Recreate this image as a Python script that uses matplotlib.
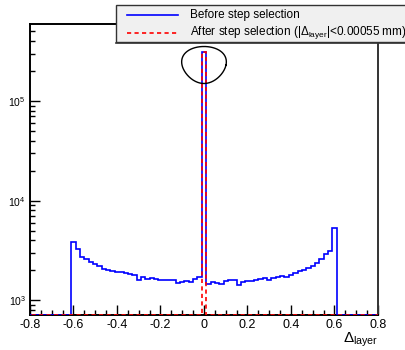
import numpy as np
import matplotlib
matplotlib.use("Agg")
import matplotlib.pyplot as plt
from matplotlib.lines import Line2D
from matplotlib.patches import Rectangle

plt.rcParams['font.family'] = ['Liberation Sans', 'DejaVu Sans']
plt.rcParams['mathtext.fontset'] = 'custom'
plt.rcParams['mathtext.rm'] = 'Liberation Sans'
plt.rcParams['mathtext.it'] = 'Liberation Sans:italic'

# ---- data ----
bin_width = 0.02
bin_centers = np.round(np.arange(-0.60, 0.6001, 0.02), 2)   # 61 bins
before_left = [3860, 3280, 2720, 2590, 2420, 2320, 2210, 2040, 1990, 1960,
               1900, 1910, 1880, 1830, 1780, 1610, 1720, 1630, 1680, 1620,
               1610, 1590, 1590, 1580, 1500, 1530, 1570, 1530, 1620, 1720]
peak_value = 313000
before_right = [1470, 1520, 1490, 1470, 1560, 1590, 1610, 1420, 1530, 1570,
                1560, 1590, 1640, 1670, 1600, 1680, 1710, 1750, 1710, 1800,
                1860, 1950, 2030, 2130, 2220, 2350, 2600, 2900, 3150, 5300]
before = np.array(before_left + [peak_value] + before_right, dtype=float)
after = np.zeros_like(before)
after[len(before_left)] = peak_value

x_range = (-0.8, 0.8)
y_range = (711, 5.94e5)
x_major = [-0.8, -0.6, -0.4, -0.2, 0.0, 0.2, 0.4, 0.6, 0.8]
x_major_labels = ["-0.8", "-0.6", "-0.4", "-0.2", "0", "0.2", "0.4", "0.6", "0.8"]
xlabel = r"$\Delta_{\mathrm{layer}}$"
label_before = "Before step selection"
label_after = r"After step selection ($|\Delta_{\mathrm{layer}}|$<0.00055 mm)"

# ---- figure ----
W, H = 406, 350
fig = plt.figure(figsize=(W / 100, H / 100), dpi=100)
ax = fig.add_axes([30 / W, (H - 315) / H, 348 / W, 291 / H])
ax.set_yscale('log')
ax.set_xlim(*x_range)
ax.set_ylim(*y_range)

edges = np.concatenate([bin_centers - bin_width / 2, [bin_centers[-1] + bin_width / 2]])
full_edges = np.concatenate([[x_range[0]], edges, [x_range[1]]])
ymin = y_range[0]

def padded(v):
    v = np.where(v > 0, v, ymin)
    return np.concatenate([[ymin], v, [ymin]])

ax.stairs(padded(before), full_edges, color=(0, 0, 1), lw=1.2, zorder=3)
ax.stairs(padded(after), full_edges, color=(1, 0, 0), lw=1.2,
          linestyle=(0, (2.5, 2)), zorder=4)

# annotation ellipse (egg shape) around peak top
t = np.linspace(0, 2 * np.pi, 200)
ex = np.cos(t) * (1 + 0.18 * np.sin(t)) * 22
ey = np.sin(t) * 18.5
cx, cy = 204, 65
ax.plot((cx + ex) / W, 1 - (cy - ey) / H, color='black', lw=1.0,
        transform=fig.transFigure, clip_on=False, zorder=5)

# ticks
ax.set_xticks(x_major)
ax.set_xticklabels(x_major_labels)
ax.set_xticks(np.arange(-0.8, 0.801, 0.05), minor=True)
ax.tick_params(axis='x', which='major', direction='in', length=7, width=1,
               labelsize=9, pad=3)
ax.tick_params(axis='x', which='minor', direction='in', length=3.5, width=1)
ax.tick_params(axis='y', which='major', direction='in', length=7, width=1,
               labelsize=7.5, pad=3)
ax.tick_params(axis='y', which='minor', direction='in', length=3.5, width=1)
ax.tick_params(top=False, right=False, which='both')
for s in ax.spines.values():
    s.set_linewidth(1.4)
ax.spines['right'].set_color('#333333')

fig.text(378 / W, 1 - 349 / H, xlabel, ha='right', va='bottom', fontsize=11)

# legend box (in figure coords, extends past right edge)
lx0, ly0, lx1, ly1 = 116, 5, 412, 42
fig.patches.append(Rectangle((lx0 / W, 1 - ly1 / H), (lx1 - lx0) / W, (ly1 - ly0) / H,
                             transform=fig.transFigure, facecolor='#f0f0f0',
                             edgecolor='#333333', lw=1.0, zorder=10))
fig.lines.append(Line2D([lx0 / W, lx1 / W], [1 - (ly1 + 0.5) / H] * 2,
                        transform=fig.transFigure, color='#333333', lw=1.2, zorder=11))
fig.lines.append(Line2D([127 / W, 178 / W], [1 - 15 / H] * 2, transform=fig.transFigure,
                        color=(0, 0, 1), lw=1.2, zorder=11))
fig.lines.append(Line2D([127 / W, 178 / W], [1 - 32.5 / H] * 2, transform=fig.transFigure,
                        color=(1, 0, 0), lw=1.2, linestyle=(0, (2.5, 2)), zorder=11))
fig.text(190 / W, 1 - 15 / H, label_before, ha='left', va='center', fontsize=8.5, zorder=12)
fig.text(190 / W, 1 - 32.5 / H, label_after, ha='left', va='center', fontsize=8.5, zorder=12)

fig.savefig("out.png", dpi=100)
